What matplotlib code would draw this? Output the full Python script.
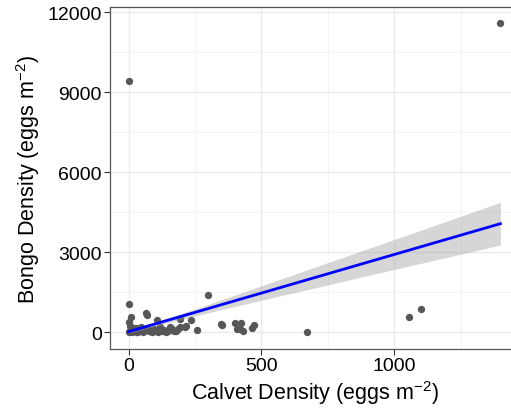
import numpy as np
import matplotlib
matplotlib.use("Agg")
import matplotlib.pyplot as plt
from matplotlib.ticker import MultipleLocator

# Calvet vs Bongo egg densities (eggs m^-2)
calvet = [
    0, 10, 0, 65, 70, 107, 156, 195, 235, 257, 213, 187, 192, 215, 300,
    347, 353, 400, 423, 407, 420, 430, 463, 471, 673, 1057, 1101, 0, 1397,
    2, 5, 8, 12, 15, 20, 25, 28, 32, 38, 42, 48, 55, 60, 68, 75, 82, 88,
    95, 100, 110, 118, 125, 135, 142, 150, 165, 172, 180, 4, 18, 30, 50,
]
bongo = [
    1050, 590, 410, 740, 650, 475, 190, 510, 480, 95, 215, 115, 210, 230, 1420,
    315, 275, 350, 365, 140, 115, 40, 150, 275, 25, 575, 890, 9430, 11600,
    20, 60, 110, 10, 140, 40, 90, 170, 25, 120, 60, 200, 30, 100, 160, 45, 80,
    20, 130, 60, 30, 190, 70, 100, 20, 55, 140, 40, 70, 230, 180, 35, 120,
]

# fitted line and its confidence band
fit_x = [0, 1400]
fit_y = [30, 4075]
band_x = [0, 250, 500, 750, 1000, 1250, 1400]
band_lo = [-30, 620, 1205, 1780, 2360, 2930, 3275]
band_hi = [90, 880, 1745, 2615, 3480, 4350, 4875]

plt.rcParams["font.family"] = ["Liberation Sans", "DejaVu Sans"]
plt.rcParams["mathtext.default"] = "regular"

fig = plt.figure(figsize=(5.11, 4.10), dpi=100)
ax = fig.add_axes([110 / 511, 60 / 410, 409 / 511, 342 / 410])

ax.scatter(calvet, bongo, s=28, color="#575757", lw=0, zorder=2)
ax.fill_between(band_x, band_lo, band_hi, color="#999999", alpha=0.4,
                lw=0, zorder=3)
ax.plot(fit_x, fit_y, color="#0000ff", lw=2.0, zorder=4)

ax.set_xlim(-70, 1470)
ax.set_ylim(-620, 12190)
ax.xaxis.set_major_locator(MultipleLocator(500))
ax.xaxis.set_minor_locator(MultipleLocator(250))
ax.yaxis.set_major_locator(MultipleLocator(3000))
ax.yaxis.set_minor_locator(MultipleLocator(1500))
ax.grid(which="major", color="#ebebeb", lw=1.0, zorder=0)
ax.grid(which="minor", color="#f2f2f2", lw=0.6, zorder=0)
ax.set_axisbelow(True)

for side in ["top", "left", "bottom"]:
    ax.spines[side].set_color("#555555")
    ax.spines[side].set_linewidth(0.9)
ax.spines["right"].set_visible(False)

ax.tick_params(which="major", length=4, width=0.8, color="#333333",
               labelsize=14, labelcolor="black", pad=2)
ax.tick_params(which="minor", length=0)

ax.set_xlabel("Calvet Density (eggs m$^{-2}$)", fontsize=15.5, labelpad=3)
ax.set_ylabel("Bongo Density (eggs m$^{-2}$)", fontsize=15.5, labelpad=4)

fig.savefig("out.png", dpi=100)
